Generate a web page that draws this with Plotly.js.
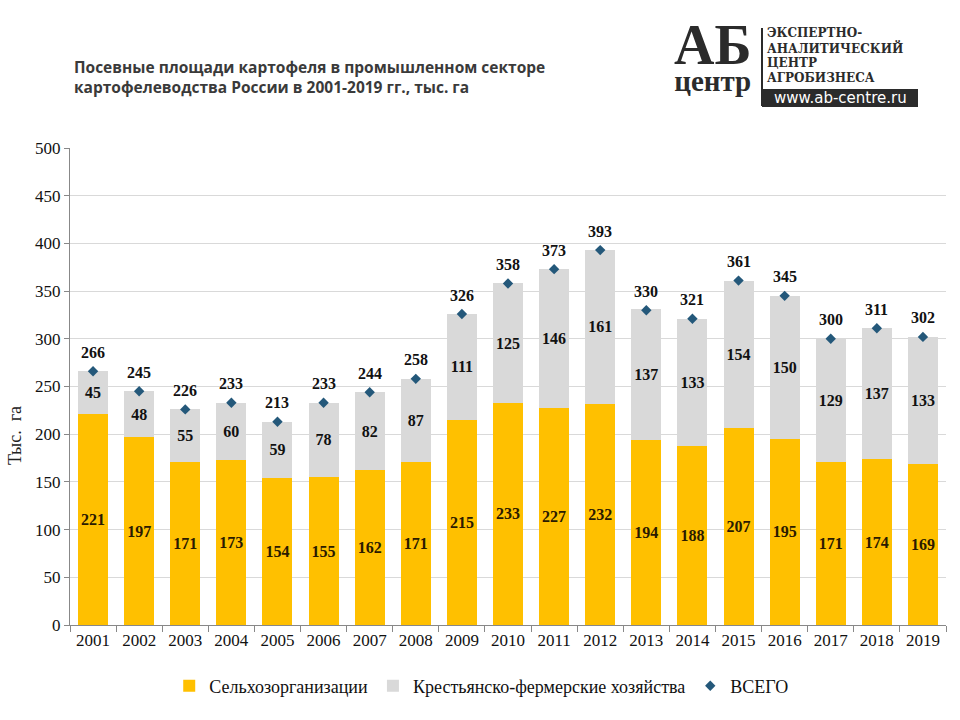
<!DOCTYPE html>
<html><head><meta charset="utf-8">
<script src="https://cdn.plot.ly/plotly-3.0.1.min.js"></script>
<style>html,body{margin:0;padding:0;background:#fff}#chart{width:960px;height:720px}</style>
</head><body><div id="chart"></div>
<script>
const years = ['2001','2002','2003','2004','2005','2006','2007','2008','2009','2010','2011','2012','2013','2014','2015','2016','2017','2018','2019'];
const agroOrgs = [221,197,171,173,154,155,162,171,215,233,227,232,194,188,207,195,171,174,169];
const farms = [45,48,55,60,59,78,82,87,111,125,146,161,137,133,154,150,129,137,133];
const totals = [266,245,226,233,213,233,244,258,326,358,373,393,330,321,361,345,300,311,302];
const yTicks = [0,50,100,150,200,250,300,350,400,450,500];
const logoLines = ['ЭКСПЕРТНО-','АНАЛИТИЧЕСКИЙ','ЦЕНТР','АГРОБИЗНЕСА'];

const serif = 'Liberation Serif, Times New Roman, serif';
const traces = [
  {type:'bar', name:'Сельхозорганизации', x:years, y:agroOrgs, marker:{color:'#FFC000'},
   text:agroOrgs.map(String), textposition:'inside', insidetextanchor:'middle', textangle:0, constraintext:'none',
   textfont:{family:serif, size:16, color:'#2a1a00', weight:'bold'}, hoverinfo:'y'},
  {type:'bar', name:'Крестьянско-фермерские хозяйства', x:years, y:farms, marker:{color:'#D9D9D9'},
   text:farms.map(String), textposition:'inside', insidetextanchor:'middle', textangle:0, constraintext:'none',
   textfont:{family:serif, size:16, color:'#111', weight:'bold'}, hoverinfo:'y'},
  {type:'scatter', mode:'markers', name:'ВСЕГО', x:years, y:totals,
   marker:{symbol:'diamond', size:8, color:'#24587a'}, hoverinfo:'y'}
];

// plot area in pixels: x 70..946, y 148..625
const pw = 876, ph = 477;
function px(xp){return (xp-70)/pw;}
function py(yp){return (625-yp)/ph;}

const annotations = years.map((yr,i)=>({x:i, y:totals[i], xref:'x', yref:'y', text:'<b>'+totals[i]+'</b>',
  showarrow:false, yshift:19, font:{family:serif, size:16, color:'#111'}}));

annotations.push(
  {xref:'paper', yref:'paper', x:px(15), y:py(436), xanchor:'center', yanchor:'middle', textangle:-90,
   text:'Тыс.  га', showarrow:false, font:{family:serif, size:18, color:'#222'}},
  // title
  {xref:'paper', yref:'paper', x:px(72), y:py(77), xanchor:'left', yanchor:'middle', showarrow:false, align:'left',
   text:'<b>Посевные площади картофеля в промышленном секторе<br>картофелеводства России в 2001-2019 гг., тыс. га</b>',
   font:{family:'Open Sans, Noto Sans, sans-serif', size:15.5, color:'#3a3a3a'}},
  // logo
  {xref:'paper', yref:'paper', x:px(712), y:py(56), xanchor:'center', yanchor:'middle', showarrow:false, align:'center',
   text:'<b><span style="font-size:56px">АБ</span><br><span style="font-size:29px">центр</span></b>', font:{family:serif, size:21, color:'#2b2b2b'}},
  {xref:'paper', yref:'paper', x:px(840), y:py(98), xanchor:'center', yanchor:'middle', showarrow:false,
   text:'www.ab-centre.ru', font:{family:'DejaVu Sans, sans-serif', size:15, color:'#fff'}}
);
const logoY = [33, 48, 63, 78];
logoLines.forEach((t,i)=>annotations.push({xref:'paper', yref:'paper', x:px(766), y:py(logoY[i]), xanchor:'left', yanchor:'middle',
  showarrow:false, borderpad:0, text:'<b>'+t+'</b>', font:{family:'DejaVu Serif, serif', size:12, color:'#2b2b2b'}}));

const layout = {
  width:960, height:720,
  margin:{l:70, r:14, t:148, b:95},
  paper_bgcolor:'#fff', plot_bgcolor:'#fff',
  barmode:'stack', bargap:0.35,
  showlegend:true,
  legend:{orientation:'h', x:0.47, xanchor:'center', y:-0.128, yanchor:'middle',
    font:{family:serif, size:18, color:'#111'}, itemwidth:30, traceorder:'normal'},
  xaxis:{type:'category', range:[-0.5,18.5], tickson:'boundaries', ticks:'outside', ticklen:6, tickcolor:'#888',
    showline:true, linecolor:'#888', linewidth:1, showgrid:false,
    tickfont:{family:serif, size:17, color:'#111'}},
  yaxis:{range:[0,500], tickvals:yTicks, ticks:'outside', ticklen:5, tickcolor:'#888',
    showline:true, linecolor:'#888', gridcolor:'#d9d9d9', zeroline:false,
    tickfont:{family:serif, size:17, color:'#111'}},
  annotations:annotations,
  shapes:[
    {type:'line', xref:'paper', yref:'paper', x0:px(762), x1:px(762), y0:py(28), y1:py(106), line:{color:'#2b2b2b', width:2}},
    {type:'rect', xref:'paper', yref:'paper', x0:px(762), x1:px(918), y0:py(107), y1:py(89), fillcolor:'#2b2b2b', line:{width:0}}
  ],
  font:{family:serif}
};

Plotly.newPlot('chart', traces, layout, {displayModeBar:false, staticPlot:true});
</script></body></html>
